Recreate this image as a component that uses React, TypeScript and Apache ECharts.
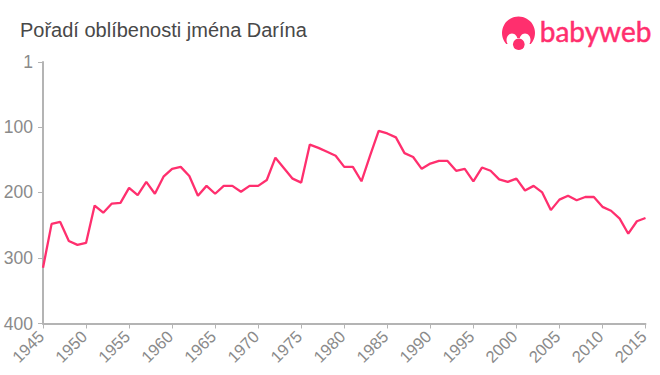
import React, { useEffect, useRef } from "react";
import * as echarts from "echarts";

const years: number[] = [];
for (let y = 1945; y <= 2015; y++) years.push(y);
const ranks = [
  315, 248, 245, 274, 280, 277, 220, 231, 217, 216,
  193, 204, 184, 202, 176, 164, 161, 175, 205, 190,
  202, 190, 190, 199, 190, 190, 181, 147, 163, 179,
  185, 127, 132, 138, 144, 161, 161, 183, 144, 106,
  110, 116, 140, 146, 164, 156, 152, 152, 167, 164,
  183, 162, 167, 180, 184, 179, 197, 190, 200, 227,
  211, 205, 212, 207, 207, 222, 228, 240, 263, 244, 239,
];
const yTicks = [1, 100, 200, 300, 400];
const titleText = "Pořadí oblíbenosti jména Darína";
const logoText = "babyweb";

const PINK = "#ff2f6e";
const GREY = "#8a8a8a";
const AXIS = "#b4b4b4";

export default function App() {
  const ref = useRef<HTMLDivElement>(null);
  useEffect(() => {
    const chart = echarts.init(ref.current!, null, { renderer: "svg" });
    chart.setOption({
      animation: false,
      backgroundColor: "#fff",
      grid: { left: 43, right: 14.5, top: 62, bottom: 51.5, containLabel: false },
      xAxis: {
        type: "value",
        min: 1945,
        max: 2015,
        interval: 5,
        splitLine: { show: false },
        axisLine: { lineStyle: { color: AXIS, width: 2 } },
        axisTick: { length: 5, lineStyle: { color: AXIS, width: 1 } },
        axisLabel: {
          rotate: 45,
          color: GREY,
          fontSize: 16.5,
          fontFamily: "Liberation Sans",
          margin: 8,
          padding: [0, 3, 0, 0],
          formatter: (v: number) => String(v),
          hideOverlap: false,
          showMinLabel: true,
          showMaxLabel: true,
        },
      },
      yAxis: {
        type: "value",
        inverse: true,
        min: 1,
        max: 400,
        splitLine: { show: false },
        axisLine: { show: true, lineStyle: { color: AXIS, width: 2 } },
        axisTick: { show: true, length: 5, customValues: yTicks, lineStyle: { color: AXIS, width: 1 } },
        axisLabel: {
          color: GREY,
          fontSize: 17.5,
          fontFamily: "Liberation Sans",
          margin: 10,
          customValues: yTicks,
          formatter: (v: number) => String(v),
        },
      },
      series: [
        {
          type: "line",
          data: years.map((y, i) => [y, ranks[i]]),
          symbol: "none",
          clip: false,
          lineStyle: { color: PINK, width: 2.3 },
        },
      ],
      graphic: [
        {
          type: "text",
          left: 20,
          top: 20,
          style: { text: titleText, fill: "#484848", font: "20px 'Liberation Sans'" },
        },
        { type: "circle", shape: { cx: 518.5, cy: 33, r: 16.5 }, style: { fill: PINK } },
        { type: "rect", shape: { x: 500, y: 44, width: 37, height: 7 }, style: { fill: "#fff" } },
        { type: "ellipse", shape: { cx: 512, cy: 40, rx: 5.5, ry: 6.5 }, style: { fill: "#fff" } },
        { type: "ellipse", shape: { cx: 525, cy: 40, rx: 5.5, ry: 6.5 }, style: { fill: "#fff" } },
        { type: "rect", shape: { x: 511, y: 38, width: 15, height: 8 }, style: { fill: "#fff" } },
        { type: "circle", shape: { cx: 518.8, cy: 44.3, r: 5.8 }, style: { fill: PINK } },
        {
          type: "text",
          left: 539.5,
          top: 17,
          style: { text: logoText, fill: PINK, stroke: PINK, lineWidth: 0.5, font: "28px Lato" },
        },
      ],
    });
    return () => chart.dispose();
  }, []);
  return <div ref={ref} style={{ position: "fixed", left: 0, top: 0, width: 660, height: 375 }} />;
}
